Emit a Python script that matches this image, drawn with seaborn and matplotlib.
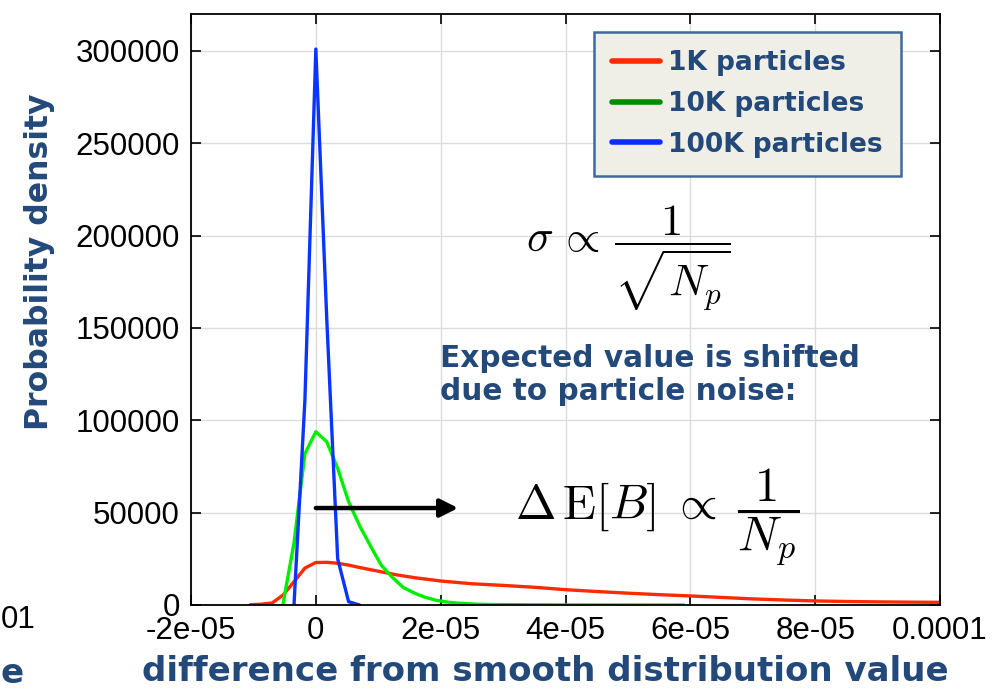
import matplotlib
matplotlib.use("Agg")
import matplotlib.pyplot as plt
from matplotlib.lines import Line2D
import numpy as np
import pandas as pd
import seaborn as sns

# Positions are in units of 1e-6; densities per unit difference
x_1k = [-10.5, -8.75, -7.0, -5.25, -3.5, -1.75, 0.0, 1.75, 3.5, 5.25, 7.0, 10.0, 13.0,
        16.0, 20.0, 25.0, 30.0, 35.0, 40.0, 45.0, 50.0, 55.0, 60.0, 65.0, 70.0, 75.0,
        80.0, 85.0, 90.0, 95.0, 100.0]
y_1k = [150, 450, 1100, 5400, 12600, 20000, 23000, 23100, 22600, 21600, 20300, 18300, 16300,
        14700, 13000, 11500, 10600, 9600, 8300, 7300, 6400, 5600, 4900, 4100, 3300, 2700,
        2200, 1900, 1700, 1550, 1450]

x_10k = [-5.25, -3.5, -1.75, 0.0, 1.75, 3.5, 5.25, 7.0, 8.75, 10.5, 12.25, 14.0, 15.75,
         17.5, 19.25, 21.0, 22.75, 24.5, 26.25, 28.0, 31.5, 35.0, 40.0, 45.0, 50.0, 55.0, 59.0]
y_10k = [800, 33500, 82000, 93800, 88400, 74000, 56000, 43000, 32000, 21500, 15000, 9500, 6500,
         4200, 2600, 1600, 1000, 650, 400, 280, 200, 100, 50, 30, 15, 8, 5]

x_100k = [-3.5, -1.75, 0.0, 1.75, 3.5, 5.25, 7.0]
y_100k = [0, 111000, 301000, 155000, 25000, 1800, 0]

series_names = ["1K particles", "10K particles", "100K particles"]
line_colors = ["#ff2a00", "#00ee00", "#0a34ff"]
legend_colors = ["#ff2a00", "#008a00", "#0a2cff"]

x_ticks = [-2e-5, 0, 2e-5, 4e-5, 6e-5, 8e-5, 1e-4]
x_tick_labels = ["-2e-05", "0", "2e-05", "4e-05", "6e-05", "8e-05", "0.0001"]
y_ticks = [0, 50000, 100000, 150000, 200000, 250000, 300000]
y_tick_labels = ["0", "50000", "100000", "150000", "200000", "250000", "300000"]

frames = []
for name, xs, ys in zip(series_names, [x_1k, x_10k, x_100k], [y_1k, y_10k, y_100k]):
    frames.append(pd.DataFrame({"diff": np.array(xs) * 1e-6, "density": ys, "run": name}))
df = pd.concat(frames, ignore_index=True)

sns.set_theme(style="white")
plt.rcParams["mathtext.fontset"] = "cm"
plt.rcParams["font.family"] = ["Liberation Sans", "DejaVu Sans"]

navy = "#23497a"

fig = plt.figure(figsize=(10.05, 6.91), dpi=100)
ax = fig.add_axes([191 / 1005, 1 - 605 / 691, 749 / 1005, 591 / 691])

sns.lineplot(data=df, x="diff", y="density", hue="run", hue_order=series_names,
             palette=line_colors, linewidth=2.4, sort=False, legend=False, ax=ax)

ax.set_xlim(-2e-5, 1e-4)
ax.set_ylim(0, 320000)
ax.set_xticks(x_ticks)
ax.set_xticklabels(x_tick_labels)
ax.set_yticks(y_ticks)
ax.set_yticklabels(y_tick_labels)
ax.grid(True, color="#dcdcdc", linewidth=1.0)
ax.set_axisbelow(True)
ax.tick_params(axis="both", which="both", direction="in", length=7, width=1.2,
               color="black", labelsize=22.5, labelcolor="black",
               top=True, right=True, bottom=True, left=True, pad=8)
for s in ax.spines.values():
    s.set_visible(True)
    s.set_color("black")
    s.set_linewidth(1.3)

ax.set_xlabel("difference from smooth distribution value",
              family="DejaVu Sans", weight="bold", size=24.5, color=navy)
ax.xaxis.set_label_coords((545 - 191) / 749, -(655 - 605) / 591)
ax.xaxis.label.set_va("top")
ax.set_ylabel("Probability density",
              family="DejaVu Sans", weight="bold", size=22.7, color=navy)
ax.yaxis.set_label_coords(-(191 - 55) / 749, (605 - 262) / 591)

handles = [Line2D([0], [0], color=c, lw=4) for c in legend_colors]
leg = ax.legend(handles, series_names, loc="upper right",
                bbox_to_anchor=((901 - 191) / 749, (605 - 32) / 591),
                borderaxespad=0, frameon=True, fancybox=False,
                prop=dict(family="DejaVu Sans", weight="bold", size=19),
                handlelength=1.8, handletextpad=0.3, labelspacing=0.55,
                borderpad=0.7)
leg.get_frame().set_facecolor("#f0efe7")
leg.get_frame().set_edgecolor("#3d6a9a")
leg.get_frame().set_linewidth(1.8)
leg.get_frame().set_alpha(1)
for t in leg.get_texts():
    t.set_color(navy)

# Scaling laws and the shift of the expected value
fig.text(628 / 1005, 1 - 258 / 691, r"$\sigma\,\propto\,\dfrac{1}{\sqrt{N_p}}$",
         ha="center", va="center", fontsize=32, color="black")
fig.text(440 / 1005, 1 - 375 / 691, "Expected value is shifted\ndue to particle noise:",
         ha="left", va="center", linespacing=1.15,
         family="DejaVu Sans", weight="bold", size=21.3, color=navy)
fig.text(657 / 1005, 1 - 517 / 691, r"$\Delta\,\mathrm{E}[B]\;\propto\;\dfrac{1}{N_p}$",
         ha="center", va="center", fontsize=35, color="black")
ax.annotate("", xy=(2.28e-5, 52500), xytext=(0, 52500),
            arrowprops=dict(arrowstyle="-|>,head_length=0.9,head_width=0.45",
                            color="black", lw=3.2, shrinkA=0, shrinkB=0))

# Edge of the neighbouring panel
fig.text(0.5 / 1005, 1 - 628 / 691, "01", ha="left", va="baseline",
         fontsize=22.5, color="black")
fig.text(0.5 / 1005, 1 - 683 / 691, "e", ha="left", va="baseline",
         family="DejaVu Sans", weight="bold", size=24.5, color=navy)

fig.savefig("out.png", dpi=100)
